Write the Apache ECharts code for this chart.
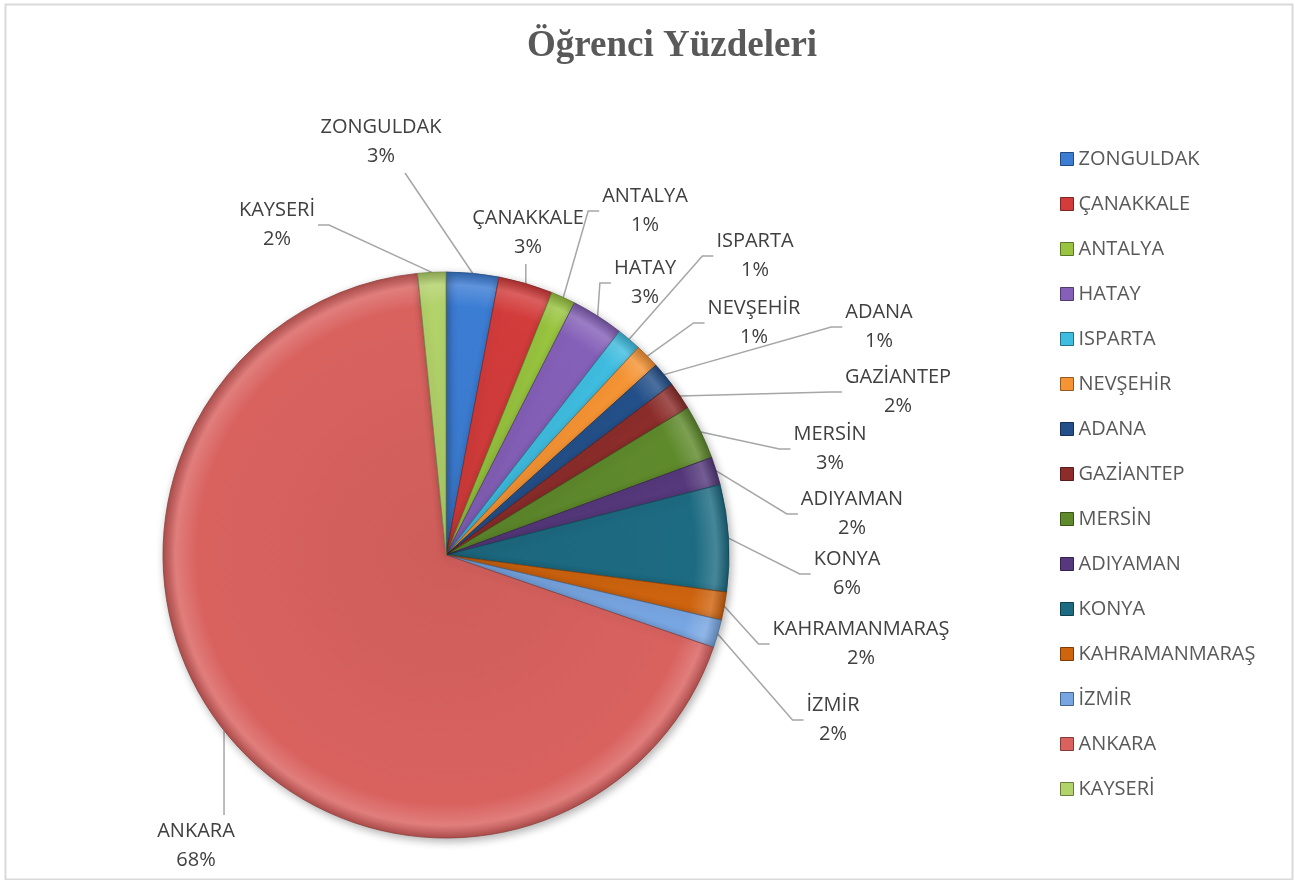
<!DOCTYPE html>
<html><head><meta charset="utf-8">
<script src="https://cdn.jsdelivr.net/npm/echarts@6/dist/echarts.min.js"></script>
<style>html,body{margin:0;padding:0;background:#fff}#c{width:1295px;height:880px}</style>
</head><body><div id="c"></div>
<script>
// ---- data ----
const categories = ['ZONGULDAK','ÇANAKKALE','ANTALYA','HATAY','ISPARTA','NEVŞEHİR','ADANA','GAZİANTEP','MERSİN','ADIYAMAN','KONYA','KAHRAMANMARAŞ','İZMİR','ANKARA','KAYSERİ'];
const values = [3.0, 3.1, 1.4, 3.0, 1.4, 1.4, 1.4, 1.6, 3.1, 1.6, 6.1, 1.6, 1.6, 68.1, 1.6];
const titleText = 'Öğrenci Yüzdeleri';

// ---- styles / layout ----
const colors = ['#3c7dd4','#d23c3b','#98c43f','#8560b8','#3fbde0','#f59434','#24508a','#8c2d2b','#5f8a2c','#56397c','#1d6b82','#cf640f','#78a6e2','#d9625f','#b2d26a'];
const pieCenter = [446, 555];
const pieRadius = 283;
// label block centres, as offsets from the pie centre
const labelOffsets = [[-65,-413],[82,-322],[199,-344],[199,-272],[309,-299],[308,-232],[433,-228],[452,-163],[384,-106],[406,-41],[401,19],[415,89],[387,165],[-250,291],[-169,-330]];

function shade(hex, f) {
  const n = parseInt(hex.slice(1), 16);
  let r = (n >> 16) & 255, g = (n >> 8) & 255, b = n & 255;
  const t = f < 0 ? 0 : 255, p = Math.abs(f);
  r = Math.round((t - r) * p + r); g = Math.round((t - g) * p + g); b = Math.round((t - b) * p + b);
  return 'rgb(' + r + ',' + g + ',' + b + ')';
}

const total = values.reduce((a, b) => a + b, 0);
const cumBefore = values.map((v, i) => values.slice(0, i).reduce((a, b) => a + b, 0));

const data = categories.map((name, i) => ({
  name: name,
  value: values[i],
  itemStyle: {
    color: {
      type: 'radial', x: pieCenter[0], y: pieCenter[1], r: pieRadius, global: true,
      colorStops: [
        { offset: 0, color: shade(colors[i], -0.05) },
        { offset: 0.88, color: colors[i] },
        { offset: 0.955, color: shade(colors[i], 0.18) },
        { offset: 1, color: shade(colors[i], -0.2) }
      ]
    },
    borderColor: shade(colors[i], -0.35),
    borderWidth: 0.8
  }
}));

const chart = echarts.init(document.getElementById('c'), null, { renderer: 'canvas' });

chart.setOption({
  animation: false,
  backgroundColor: '#ffffff',
  graphic: [{
    type: 'rect', left: 3, top: 2, silent: true,
    shape: { width: 1287, height: 875 },
    style: { fill: 'none', stroke: '#d9d9d9', lineWidth: 2 }
  }],
  title: {
    text: titleText, left: 522, top: 23,
    textStyle: { fontFamily: 'Liberation Serif', fontWeight: 'bold', fontSize: 37, color: '#595959' }
  },
  legend: {
    orient: 'vertical', left: 1055, top: 144,
    icon: 'rect', itemWidth: 13, itemHeight: 13, itemGap: 25,
    textStyle: { fontFamily: 'Open Sans', fontSize: 20, color: '#595959', lineHeight: 20 },
    data: categories.map((n, i) => ({ name: n, itemStyle: { color: colors[i], borderColor: shade(colors[i], -0.4), borderWidth: 1 } }))
  },
  series: [{
    type: 'pie',
    center: pieCenter,
    radius: pieRadius,
    startAngle: 90,
    clockwise: true,
    avoidLabelOverlap: false,
    data: data,
    label: {
      show: true, position: 'outside',
      fontFamily: 'Open Sans', fontSize: 20, color: '#404040', lineHeight: 29,
      align: 'center',
      formatter: p => p.name + '\n' + Math.round(p.value / total * 100) + '%'
    },
    labelLine: { show: true, lineStyle: { color: '#a6a6a6', width: 1.5 } },
    itemStyle: { shadowBlur: 8, shadowOffsetX: 2, shadowOffsetY: 3, shadowColor: 'rgba(0,0,0,0.3)' },
    labelLayout: function (params) {
      const i = params.dataIndex;
      const mid = (cumBefore[i] + values[i] / 2) / total * Math.PI * 2;
      const ax = pieCenter[0] + pieRadius * Math.sin(mid);
      const ay = pieCenter[1] - pieRadius * Math.cos(mid);
      const x = pieCenter[0] + labelOffsets[i][0];
      const y = pieCenter[1] + labelOffsets[i][1];
      const w = params.labelRect.width, h = params.labelRect.height;
      const L = x - w / 2, R = x + w / 2, T = y - h / 2, B = y + h / 2;
      let pts;
      if (ax > R + 6 && ay > B && (ay - B) > 3 * (ax - R)) {
        pts = [[ax, ay], [Math.min(ax, x + 24), B + 2]];
      } else if (ax < L - 6) {
        pts = [[ax, ay], [L - 14, y], [L - 3, y]];
      } else if (ax > R + 6) {
        pts = [[ax, ay], [R + 14, y], [R + 3, y]];
      } else if (ay > B) {
        pts = [[ax, ay], [ax, B + 2]];
      } else {
        pts = [[ax, ay], [ax, T - 2]];
      }
      return { x: x, y: y, align: 'center', verticalAlign: 'middle', labelLinePoints: pts };
    }
  }]
});
</script>
</body></html>
